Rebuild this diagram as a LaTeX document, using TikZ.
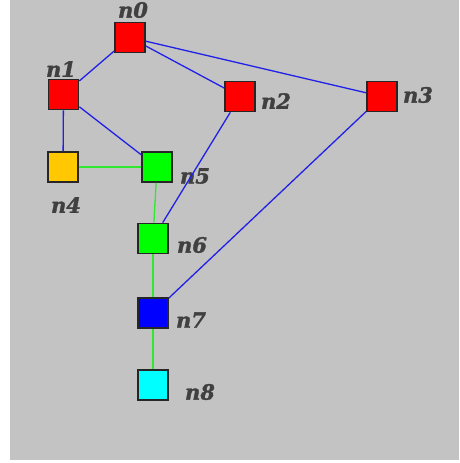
\documentclass[tikz,border=0pt]{standalone}
\usepackage{fontspec}
\newfontfamily\lblfont{DejaVu Serif}[BoldItalicFeatures={FakeBold=1.5}]
\definecolor{bg}{HTML}{C3C3C3}
\definecolor{lbl}{HTML}{404040}
\definecolor{eblue}{HTML}{2020E8}
\definecolor{egreen}{HTML}{30E830}
\definecolor{cred}{HTML}{FF0000}
\definecolor{cyel}{HTML}{FFC800}
\definecolor{cgreen}{HTML}{00FF00}
\definecolor{cblue}{HTML}{0000FF}
\definecolor{ccyan}{HTML}{00FFFF}
\tikzset{
  box/.style={draw=black!85, line width=1.7pt, minimum size=30pt, inner sep=0pt, fill=#1},
  lab/.style={text=lbl, font=\lblfont\bfseries\itshape\fontsize{21}{21}\selectfont, inner sep=0pt},
  be/.style={draw=eblue, line width=1.3pt},
  ge/.style={draw=egreen, line width=1.3pt}
}
\begin{document}
\begin{tikzpicture}[x=1pt,y=-1pt]
\useasboundingbox (0,0) rectangle (459,463);
\fill[bg] (10,0) rectangle (459,460);
\node[box=cred] (n0) at (130,37.5) {};
\node[box=cred] (n1) at (63.5,94.5) {};
\node[box=cred] (n2) at (240,96.5) {};
\node[box=cred] (n3) at (382,96.5) {};
\node[box=cyel] (n4) at (63,167) {};
\node[box=cgreen] (n5) at (157,167) {};
\node[box=cgreen] (n6) at (153,238.5) {};
\node[box=cblue] (n7) at (153,313) {};
\node[box=ccyan] (n8) at (153,385) {};
\node[lab] (l0) at (133,10) {n0};
\node[lab] (l1) at (61,69) {n1};
\node[lab] (l2) at (276,101) {n2};
\node[lab] (l3) at (418,95) {n3};
\node[lab] (l4) at (66,205) {n4};
\node[lab] (l5) at (195,176) {n5};
\node[lab] (l6) at (192,245) {n6};
\node[lab] (l7) at (191,320) {n7};
\node[lab] (l8) at (200,392) {n8};
\draw[be] (n0) -- (n1);
\draw[be] (n0) -- (n2);
\draw[be] (n0) -- (n3);
\draw[be] (n1) -- (n4);
\draw[be] (n1) -- (n5);
\draw[ge] (n4) -- (n5);
\draw[ge] (n5) -- (n6);
\draw[be] (n2) -- (n6);
\draw[be] (n3) -- (n7);
\draw[ge] (n6) -- (n7);
\draw[ge] (n7) -- (n8);
\end{tikzpicture}
\end{document}
